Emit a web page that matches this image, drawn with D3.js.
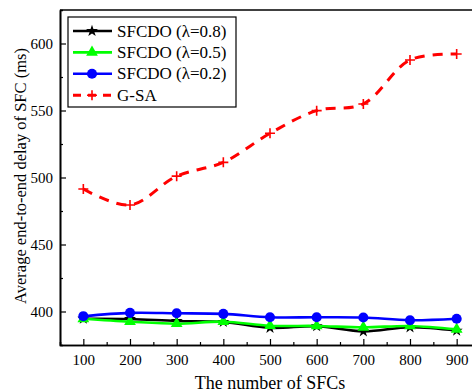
<!DOCTYPE html>
<html>
<head>
<meta charset="utf-8">
<script src="https://cdn.jsdelivr.net/npm/d3@7"></script>
<style>
  body { margin: 0; background: #fff; }
  text { font-family: "Liberation Serif", "Times New Roman", serif; fill: #000; }
</style>
</head>
<body>
<div id="chart"></div>
<script>
// data
const sfcs = [100, 200, 300, 400, 500, 600, 700, 800, 900];
const delay08 = [394.6, 394.4, 392.9, 392.2, 387.8, 389.0, 385.2, 388.2, 385.7];
const delay05 = [394.6, 392.4, 390.9, 392.4, 389.4, 389.2, 388.2, 389.2, 386.7];
const delay02 = [396.5, 399.0, 398.7, 398.2, 395.7, 395.7, 395.5, 393.5, 394.6];
const delayGSA = [491.4, 479.5, 501.0, 511.3, 533.0, 549.9, 554.9, 587.7, 592.2];
const yTicks = [400, 450, 500, 550, 600];

const series = [
    { name: "SFCDO (\u03bb=0.8)", values: delay08, color: "#000000", marker: "star" },
    { name: "SFCDO (\u03bb=0.5)", values: delay05, color: "#00ff00", marker: "triangle" },
    { name: "SFCDO (\u03bb=0.2)", values: delay02, color: "#0000ff", marker: "circle" },
    { name: "G-SA", values: delayGSA, color: "#ff0000", marker: "plus", dash: "10,8" }
];

const width = 472, height = 392;
const margin = { left: 60, top: 10, right: -8, bottom: 47 };

const svg = d3.select("#chart")
    .append("svg")
        .attr("width", width)
        .attr("height", height)
        .attr("font-family", "Liberation Serif");

const x = d3.scaleLinear()
    .domain([50, 950])
    .range([margin.left, width - margin.right]);

const y = d3.scaleLinear()
    .domain([375, 625])
    .range([height - margin.bottom, margin.top]);

// axes, ticks pointing inside
svg.append("g")
    .attr("transform", "translate(0," + (height - margin.bottom) + ")")
    .call(d3.axisBottom(x).tickValues(sfcs).tickSizeInner(-6).tickSizeOuter(0).tickPadding(9));

svg.append("g")
    .attr("transform", "translate(0," + (height - margin.bottom) + ")")
    .call(d3.axisBottom(x).tickValues(d3.range(150, 950, 100)).tickSize(-3).tickFormat(""));

svg.append("g")
    .attr("transform", "translate(" + margin.left + ",0)")
    .call(d3.axisLeft(y).tickValues(yTicks).tickSizeInner(-6).tickSizeOuter(0).tickPadding(7));

svg.append("g")
    .attr("transform", "translate(" + margin.left + ",0)")
    .call(d3.axisLeft(y).tickValues([425, 475, 525, 575]).tickSize(-3).tickFormat(""));

svg.selectAll(".domain").attr("stroke", "#000").attr("stroke-width", 1.6);
svg.selectAll(".tick line").attr("stroke", "#000").attr("stroke-width", 1.2);
svg.selectAll(".tick text")
    .attr("font-family", "Liberation Serif")
    .style("font-size", "15px");

// top frame line
svg.append("line")
    .attr("x1", margin.left).attr("x2", width)
    .attr("y1", margin.top).attr("y2", margin.top)
    .attr("stroke", "#000").attr("stroke-width", 1.6);

// axis titles
svg.append("text")
    .attr("x", x(500))
    .attr("y", height - 3)
    .attr("text-anchor", "middle")
    .style("font-size", "18px")
    .text("The number of SFCs");

svg.append("text")
    .attr("transform", "translate(26,176) rotate(-90)")
    .attr("text-anchor", "middle")
    .style("font-size", "16.5px")
    .text("Average end-to-end delay of SFC (ms)");

const line = d3.line()
    .x((d, i) => x(sfcs[i]))
    .y(d => y(d))
    .curve(d3.curveCatmullRom);

const symbolOf = {
    star: d3.symbol().type(d3.symbolStar).size(45),
    triangle: d3.symbol().type(d3.symbolTriangle).size(60),
    circle: d3.symbol().type(d3.symbolCircle).size(80)
};

function drawMarker(g, s, cx, cy) {
    if (s.marker === "plus") {
        g.append("path")
            .attr("d", "M" + (cx - 5) + "," + cy + "H" + (cx + 5) + "M" + cx + "," + (cy - 5) + "V" + (cy + 5))
            .attr("stroke", s.color)
            .attr("stroke-width", 1.6)
            .attr("fill", "none");
    } else {
        g.append("path")
            .attr("d", symbolOf[s.marker]())
            .attr("transform", "translate(" + cx + "," + cy + ")")
            .attr("fill", s.color);
    }
}

// series
series.forEach(s => {
    const g = svg.append("g");
    g.append("path")
        .datum(s.values)
        .attr("d", line)
        .attr("fill", "none")
        .attr("stroke", s.color)
        .attr("stroke-width", s.dash ? 3 : 2.6)
        .attr("stroke-dasharray", s.dash || null);
    s.values.forEach((v, i) => drawMarker(g, s, x(sfcs[i]), y(v)));
});

// legend
const legend = svg.append("g").attr("transform", "translate(68,17)");
legend.append("rect")
    .attr("width", 168)
    .attr("height", 90)
    .attr("fill", "#fff")
    .attr("stroke", "#000")
    .attr("stroke-width", 1.2);

series.forEach((s, i) => {
    const ly = 14 + i * 21.4;
    const g = legend.append("g");
    g.append("line")
        .attr("x1", 5).attr("x2", 44)
        .attr("y1", ly).attr("y2", ly)
        .attr("stroke", s.color)
        .attr("stroke-width", s.dash ? 3 : 2.6)
        .attr("stroke-dasharray", s.dash ? "8,7" : null);
    drawMarker(g, s, 24, ly);
    g.append("text")
        .attr("x", 49)
        .attr("y", ly + 5.5)
        .style("font-size", "17px")
        .text(s.name);
});
</script>
</body>
</html>
